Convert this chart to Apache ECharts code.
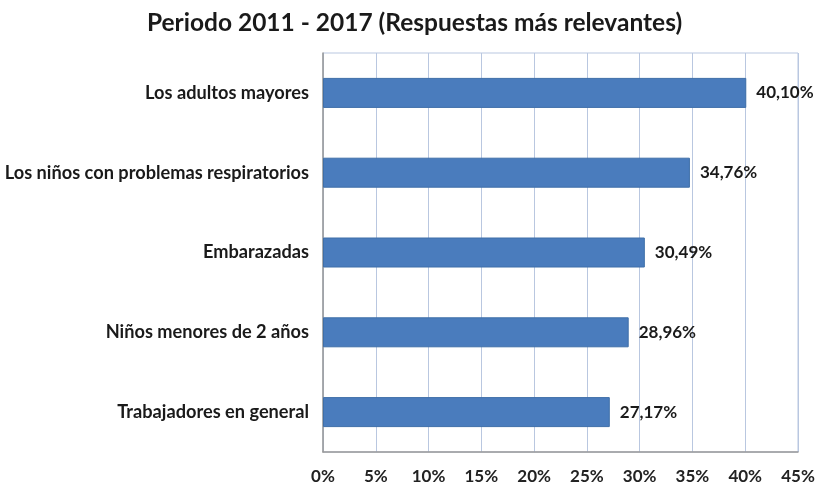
<!DOCTYPE html>
<html><head><meta charset="utf-8">
<script src="https://cdn.jsdelivr.net/npm/echarts@6/dist/echarts.min.js"></script>
<style>html,body{margin:0;padding:0;background:#fff}#c{width:829px;height:488px}</style>
</head><body><div id="c"></div>
<script>
const categories = ['Trabajadores en general','Niños menores de 2 años','Embarazadas','Los niños con problemas respiratorios','Los adultos mayores'];
const values = [27.17, 28.96, 30.49, 34.76, 40.10];
const titleText = 'Periodo 2011 - 2017 (Respuestas más relevantes)';
const chart = echarts.init(document.getElementById('c'));
chart.setOption({
  animation:false,
  title:{text:titleText,left:'center',top:6,textStyle:{fontFamily:'Lato',fontSize:24.5,fontWeight:'bold',color:'#1a1a1a'}},
  grid:{left:323,right:31,top:53,bottom:36,show:true,borderColor:'#b9c7e0',borderWidth:1},
  xAxis:{type:'value',min:0,max:45,interval:5,
    axisLabel:{formatter:'{value}%',fontFamily:'Lato',fontWeight:'bold',fontSize:17,color:'#222',margin:16},
    axisLine:{show:true,lineStyle:{color:'#999',width:1.5}},axisTick:{show:false},
    splitLine:{show:true,lineStyle:{color:'#b9c7e0',width:1}}},
  yAxis:{type:'category',data:categories,
    axisLabel:{fontFamily:'Lato',fontWeight:'bold',fontSize:18.2,color:'#1a1a1a',margin:14},
    axisLine:{show:true,lineStyle:{color:'#999',width:1.5}},axisTick:{show:false}},
  series:[{type:'bar',data:values,barWidth:30,
    itemStyle:{color:'#4a7cbd',borderColor:'#3f6fa8',borderWidth:1},
    label:{show:true,position:'right',distance:10,fontFamily:'Lato',fontWeight:'bold',fontSize:17,color:'#1a1a1a',
      formatter:p=>p.value.toFixed(2).replace('.',',')+'%'}}]
});
</script></body></html>
